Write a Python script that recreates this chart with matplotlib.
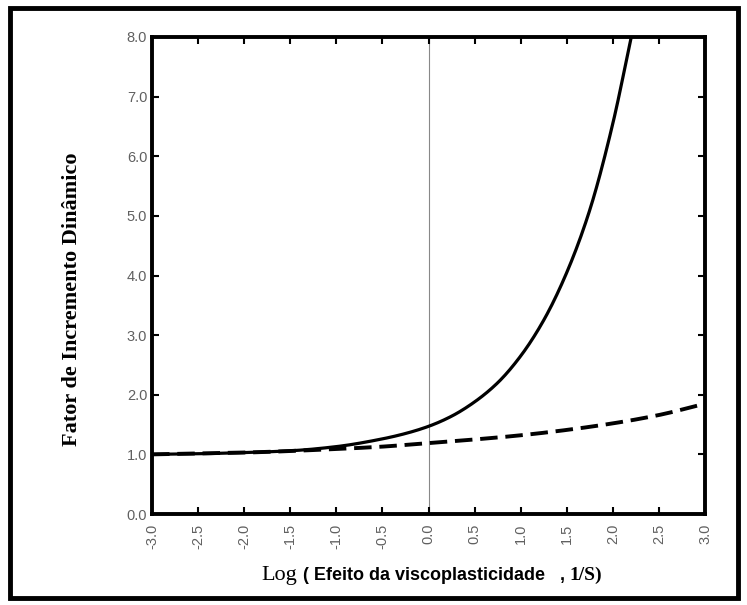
import matplotlib
matplotlib.use("Agg")
import matplotlib.pyplot as plt
from matplotlib.patches import Rectangle
import numpy as np

# Data
solid_x = [-3.0, -2.5, -2.0, -1.5, -1.0, -0.5, -0.25, 0.0, 0.25, 0.5, 0.75, 1.0, 1.25, 1.5, 1.75, 2.0, 2.2]
solid_y = [1.0, 1.01, 1.03, 1.06, 1.13, 1.26, 1.35, 1.47, 1.64, 1.88, 2.20, 2.65, 3.25, 4.05, 5.10, 6.55, 8.0]
dash_x = [-3.0, -2.0, -1.0, -0.5, 0.0, 0.5, 1.0, 1.5, 2.0, 2.5, 3.0]
dash_y = [1.0, 1.03, 1.09, 1.13, 1.19, 1.25, 1.32, 1.41, 1.52, 1.66, 1.85]
x_ticks = [-3.0, -2.5, -2.0, -1.5, -1.0, -0.5, 0.0, 0.5, 1.0, 1.5, 2.0, 2.5, 3.0]
y_ticks = [0.0, 1.0, 2.0, 3.0, 4.0, 5.0, 6.0, 7.0, 8.0]


def smooth(xp, yp, n=400):
    """Monotone cubic (PCHIP) interpolation through the read points."""
    xp = np.asarray(xp, float); yp = np.asarray(yp, float)
    h = np.diff(xp); d = np.diff(yp) / h
    m = np.zeros_like(yp)
    for k in range(1, len(xp) - 1):
        if d[k-1] * d[k] > 0:
            w1 = 2*h[k] + h[k-1]; w2 = h[k] + 2*h[k-1]
            m[k] = (w1 + w2) / (w1/d[k-1] + w2/d[k])
    m[0] = d[0]; m[-1] = d[-1]
    xs = np.linspace(xp[0], xp[-1], n)
    idx = np.clip(np.searchsorted(xp, xs) - 1, 0, len(xp) - 2)
    t = (xs - xp[idx]) / h[idx]
    h00 = 2*t**3 - 3*t**2 + 1; h10 = t**3 - 2*t**2 + t
    h01 = -2*t**3 + 3*t**2; h11 = t**3 - t**2
    ys = h00*yp[idx] + h10*h[idx]*m[idx] + h01*yp[idx+1] + h11*h[idx]*m[idx+1]
    return xs, ys


fig = plt.figure(figsize=(7.47, 6.05), dpi=100)
fig.patches.append(Rectangle((10/747, 1-598/605), 728/747, 590/605, transform=fig.transFigure,
                             fill=False, edgecolor='black', linewidth=3.5))

ax = fig.add_axes([152/747, 1-514/605, (705-152)/747, (514-37)/605])

sx, sy = smooth(solid_x, solid_y)
ax.plot(sx, sy, color='black', lw=2.3, solid_capstyle='butt')
dx, dy = smooth(dash_x, dash_y)
ax.plot(dx, dy, color='black', lw=2.8, dashes=(4.5, 2.0))
ax.axvline(0.0, color='#888888', lw=0.8, zorder=0)

ax.set_xlim(-3, 3)
ax.set_ylim(0, 8)
ax.set_xticks(x_ticks)
ax.set_yticks(y_ticks)
ax.set_xticklabels([f"{v:.1f}" for v in x_ticks], rotation=90, family='Liberation Sans', fontsize=10.5, color='#606060')
ax.set_yticklabels([f"{v:.1f}" for v in y_ticks], family='Liberation Sans', fontsize=10.5, color='#606060')
ax.tick_params(direction='in', length=5, width=1.5, top=True, right=True)
ax.tick_params(axis='x', pad=7)
for s in ax.spines.values():
    s.set_linewidth(2.8)

fig.text(72/747, 1-299/605, "Fator de Incremento Dinâmico", rotation=90, ha='center', va='center',
         family='Liberation Serif', fontweight='bold', fontsize=16)

# x label composed of mixed fonts, like the reference
parts = [
    ("Log", dict(family='Liberation Serif', fontsize=16)),
    (" ( Efeito da viscoplasticidade   , ", dict(family='Liberation Sans', fontweight='bold', fontsize=13)),
    ("1/S)", dict(family='Liberation Serif', fontweight='bold', fontsize=14)),
]
renderer = fig.canvas.get_renderer()
texts = []
x = 0.0
y = 1 - 580/605
for s, kw in parts:
    t = fig.text(x, y, s, ha='left', va='baseline', **kw)
    texts.append(t)
    x += t.get_window_extent(renderer).width / fig.bbox.width
total = x
x = 432/747 - total/2
for t in texts:
    t.set_x(x)
    x += t.get_window_extent(renderer).width / fig.bbox.width

fig.savefig("out.png", dpi=100)
